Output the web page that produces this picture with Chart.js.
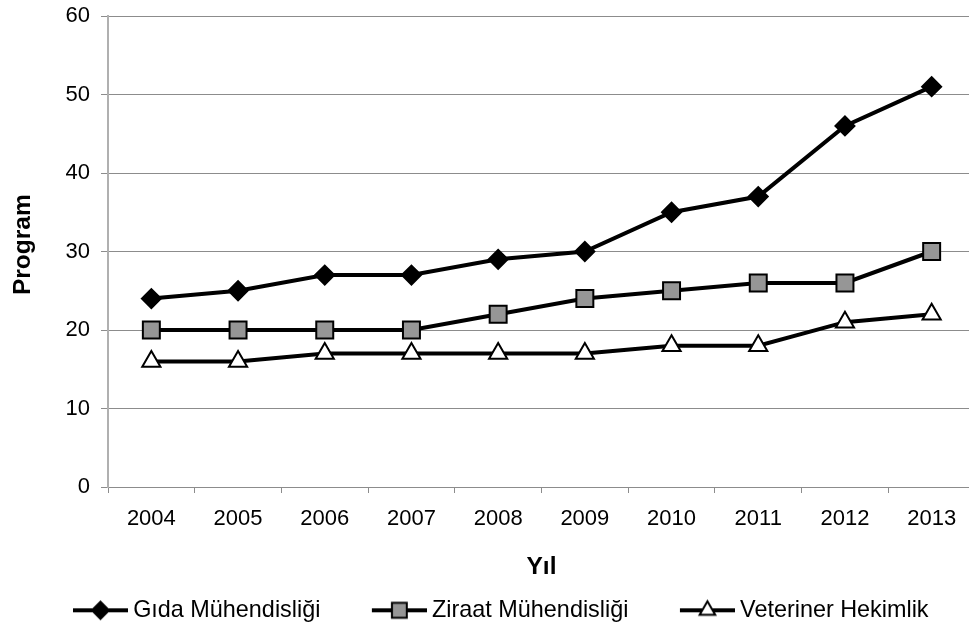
<!DOCTYPE html>
<html>
<head>
<meta charset="utf-8">
<script src="https://cdn.jsdelivr.net/npm/chart.js@4/dist/chart.umd.min.js"></script>
<style>
  html, body { margin: 0; padding: 0; background: #fff; overflow: hidden; }
  #wrap { position: relative; width: 969px; height: 625px; overflow: hidden; }
  #chart { position: absolute; left: -15px; top: 0; }
</style>
</head>
<body>
<div id="wrap"><canvas id="chart" width="991" height="632"></canvas></div>
<script>
// Data
const years = ['2004', '2005', '2006', '2007', '2008', '2009', '2010', '2011', '2012', '2013'];
const gida = [24, 25, 27, 27, 29, 30, 35, 37, 46, 51];
const ziraat = [20, 20, 20, 20, 22, 24, 25, 26, 26, 30];
const veteriner = [16, 16, 17, 17, 17, 17, 18, 18, 21, 22];
const seriesNames = ['Gıda Mühendisliği', 'Ziraat Mühendisliği', 'Veteriner Hekimlik'];

const FONT = '"Liberation Sans", Arial, sans-serif';
const SHIFT = 15; // canvas is shifted left by this much

// legend icon: a line with the marker in the middle
function legendIcon(style, fill, radius) {
    const c = document.createElement('canvas');
    c.width = 103;
    c.height = 24;
    const ctx = c.getContext('2d');
    ctx.strokeStyle = '#000';
    ctx.lineWidth = 4;
    ctx.beginPath();
    ctx.moveTo(48, 12);
    ctx.lineTo(103, 12);
    ctx.stroke();
    ctx.fillStyle = fill;
    ctx.lineWidth = 2;
    Chart.helpers.drawPoint(ctx, { pointStyle: style, radius: radius, borderWidth: 2, rotation: 0 }, 75.5, 12);
    return c;
}

const markers = [
    { style: 'rectRot', fill: '#000000', radius: 9.5, legendRadius: 8.5 },
    { style: 'rect', fill: '#969696', radius: 12, legendRadius: 10.5 },
    { style: 'triangle', fill: '#ffffff', radius: 10.5, legendRadius: 9 }
];

function makeDataset(i, values) {
    const m = markers[i];
    return {
        label: seriesNames[i],
        data: values,
        borderColor: '#000',
        backgroundColor: m.fill,
        borderWidth: 4,
        tension: 0,
        pointStyle: m.style,
        pointRadius: m.radius,
        pointHoverRadius: m.radius,
        pointBackgroundColor: m.fill,
        pointBorderColor: '#000',
        pointBorderWidth: 2
    };
}

const icons = markers.map(m => legendIcon(m.style, m.fill, m.legendRadius));

new Chart(document.getElementById('chart'), {
    type: 'line',
    data: {
        labels: years,
        datasets: [makeDataset(2, veteriner), makeDataset(1, ziraat), makeDataset(0, gida)]
    },
    options: {
        responsive: false,
        animation: false,
        layout: { autoPadding: false, padding: { top: 16, right: 1, left: 0, bottom: 0 } },
        plugins: {
            tooltip: { enabled: false },
            legend: {
                position: 'bottom',
                reverse: true,
                labels: {
                    color: '#000',
                    font: { family: FONT, size: 23.4 },
                    usePointStyle: true,
                    pointStyleWidth: 90,
                    padding: 10,
                    generateLabels: function(chart) {
                        return chart.data.datasets.map((ds, i) => {
                            const k = seriesNames.indexOf(ds.label);
                            return {
                                text: ds.label,
                                pointStyle: icons[k],
                                fillStyle: ds.backgroundColor,
                                strokeStyle: '#000',
                                lineWidth: 0,
                                hidden: false,
                                datasetIndex: i
                            };
                        });
                    }
                }
            }
        },
        scales: {
            x: {
                offset: true,
                grid: {
                    offset: true,
                    drawOnChartArea: false,
                    drawTicks: true,
                    tickLength: 6,
                    color: '#8c8c8c'
                },
                border: { color: '#8c8c8c', width: 1 },
                ticks: {
                    color: '#000',
                    font: { family: FONT, size: 22 },
                    padding: 13,
                    maxRotation: 0,
                    autoSkip: false
                },
                title: {
                    display: true,
                    text: 'Yıl',
                    color: '#000',
                    font: { family: FONT, size: 24.5, weight: 'bold' },
                    padding: { top: 0, bottom: 7 }
                },
                afterFit: function(scale) {
                    scale.height = 101.6;
                    scale.paddingLeft = 0;
                    scale.paddingRight = 0;
                }
            },
            y: {
                min: 0,
                max: 60,
                ticks: {
                    stepSize: 10,
                    color: '#000',
                    font: { family: FONT, size: 22 },
                    padding: 11
                },
                grid: {
                    color: '#8c8c8c',
                    tickLength: 7
                },
                border: { color: '#b0b0b0', width: 2 },
                title: {
                    display: true,
                    text: '  Program',
                    color: '#000',
                    font: { family: FONT, size: 24.5, weight: 'bold' },
                    padding: { top: 23.3, bottom: 0 }
                },
                afterFit: function(scale) {
                    scale.width = 108 + SHIFT;
                    scale.paddingTop = 0;
                    scale.paddingBottom = 0;
                }
            }
        }
    }
});
</script>
</body>
</html>
